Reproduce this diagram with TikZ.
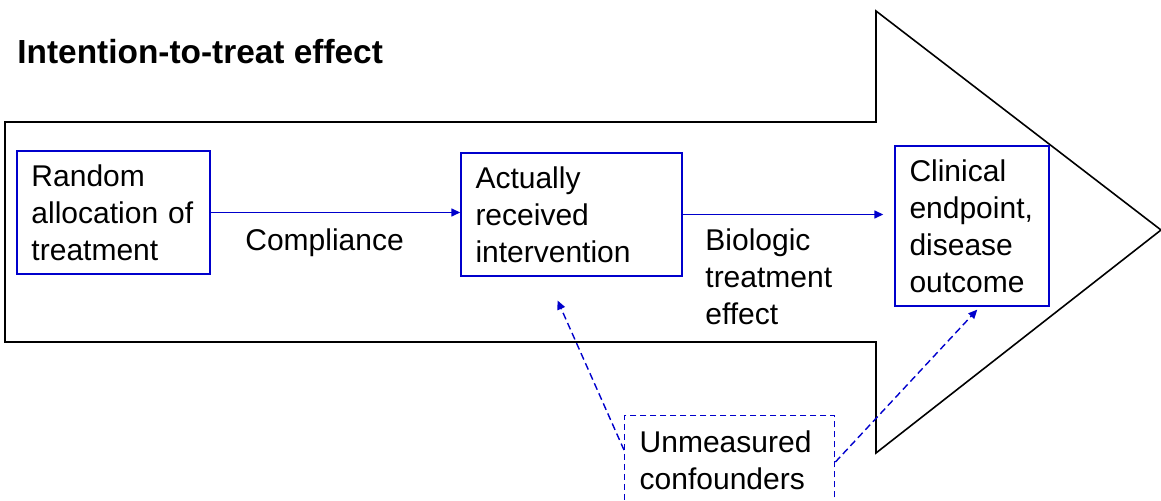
\documentclass[tikz,border=0pt]{standalone}
\usepackage{fontspec}
\setmainfont{Liberation Sans}
\usetikzlibrary{arrows.meta}
\definecolor{boxblue}{RGB}{0,0,204}

\begin{document}
\begin{tikzpicture}[x=0.5pt, y=-0.5pt,
		font=\fontsize{15}{18.5}\selectfont,
		stage/.style={draw=boxblue, line width=0.7pt, align=left, inner xsep=7.25pt, inner ysep=0pt},
		flow/.style={draw=boxblue, line width=0.7pt, -{Triangle[length=4.5pt, width=4pt]}},
		confound/.style={flow, dash pattern=on 3.5pt off 2pt}]
		\clip (0,0) rectangle (1161,501);
		% the big intention-to-treat arrow
		\draw[line width=0.8pt] (5,122) -- (876,122) -- (876,11) -- (1161,230)
			-- (876,453) -- (876,342) -- (5,342) -- cycle;
		\node (itt) [anchor=base west, inner sep=0pt, font=\fontsize{16.7}{20}\selectfont\bfseries] at (17,64) {Intention-to-treat effect};
		\node (rand) [stage, text width=82pt, minimum height=61.5pt] at (113.5,212.5) {Random\\allocation of\\treatment};
		\node (recv) [stage, text width=96pt, minimum height=61.5pt] at (571.5,214.5) {Actually\\received\\intervention};
		\node (outc) [stage, text width=62.5pt, minimum height=80pt] at (972,226) {Clinical\\endpoint,\\disease\\outcome};
		\node (comp) [anchor=base west, inner sep=0pt] at (245,251) {Compliance};
		\node (bio) [anchor=north west, align=left, inner sep=0pt] at (705,228) {Biologic\\treatment\\effect};
		\node (conf) [draw=boxblue, line width=0.7pt, dash pattern=on 3pt off 2pt, anchor=north west,
			align=left, text width=90pt, inner xsep=7.5pt, inner ysep=7.5pt, text depth=40pt] at (624,415) {Unmeasured\\confounders};
		% connectors
		\draw[flow] (rand.east) -- (rand.east -| recv.west);
		\draw[flow, shorten >=5.5pt] (recv.east) -- (recv.east -| outc.west);
		\draw[confound, shorten >=13pt] ([yshift=-17.5pt]conf.north west) -- ([xshift=-12.25pt]recv.south);
		\draw[confound, shorten >=2pt] ([yshift=-23.5pt]conf.north east) -- ([xshift=4pt]outc.south);
\end{tikzpicture}
\end{document}
